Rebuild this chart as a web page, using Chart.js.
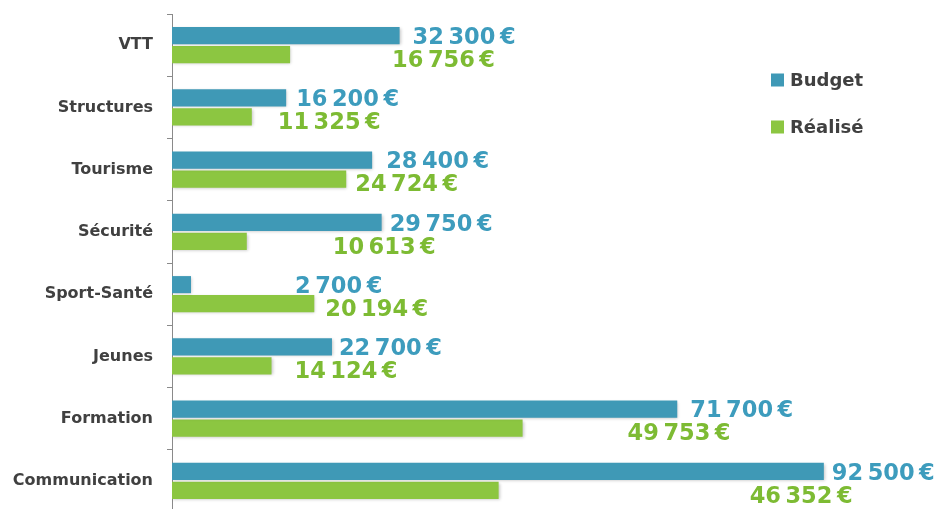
<!DOCTYPE html>
<html>
<head>
<meta charset="utf-8">
<script src="https://cdn.jsdelivr.net/npm/chart.js@4"></script>
<style>
  html, body { margin: 0; padding: 0; background: #ffffff; overflow: hidden; }
  #wrap { width: 938px; height: 520px; }
</style>
</head>
<body>
<div id="wrap"><canvas id="c" width="938" height="520"></canvas></div>
<script>
// ---- data ----
const categories = ['VTT', 'Structures', 'Tourisme', 'Sécurité', 'Sport-Santé', 'Jeunes', 'Formation', 'Communication'];
const budget  = [32300, 16200, 28400, 29750, 2700, 22700, 71700, 92500];
const realise = [16756, 11325, 24724, 10613, 20194, 14124, 49753, 46352];
const seriesNames = ['Budget', 'Réalisé'];

// ---- styling ----
const BLUE = '#3f99b6';
const GREEN = '#8cc641';
const BLUE_TXT = '#3d9cbd';
const GREEN_TXT = '#7dbb33';
const TEXT = '#404040';
// label nudges (pixels, relative to bar end) as placed in the original
const labelDx = [
  [13, 10, 14, 8, 104, 7, 13, 8],
  [102, 26, 9, 86, 11, 23, 105, 251]
];
const labelDy = [0, 4];
const LABEL_FONT_PX = 22.5;

function fmt(v) {
  return String(v).replace(/\B(?=(\d{3})+(?!\d))/g, '\u2009') + '\u2009€';
}

const shadowPlugin = {
  id: 'barShadow',
  beforeDatasetsDraw(chart) {
    const ctx = chart.ctx;
    ctx.save();
    ctx.shadowColor = 'rgba(0,0,0,0.22)';
    ctx.shadowBlur = 3;
    ctx.shadowOffsetX = 1;
    ctx.shadowOffsetY = 1;
  },
  afterDatasetsDraw(chart) {
    chart.ctx.restore();
  }
};

const labelPlugin = {
  id: 'valueLabels',
  afterDraw(chart) {
    const ctx = chart.ctx;
    ctx.save();
    ctx.font = 'bold ' + LABEL_FONT_PX + 'px "DejaVu Sans"';
    ctx.textAlign = 'left';
    ctx.textBaseline = 'alphabetic';
    chart.data.datasets.forEach((ds, di) => {
      const meta = chart.getDatasetMeta(di);
      ctx.fillStyle = di === 0 ? BLUE_TXT : GREEN_TXT;
      meta.data.forEach((el, i) => {
        const x = el.x + labelDx[di][i];
        const y = el.y + labelDy[di] + LABEL_FONT_PX * 0.3645;
        ctx.fillText(fmt(ds.data[i]), x, y);
      });
    });
    // legend
    ctx.font = 'bold 18px "DejaVu Sans"';
    ctx.textBaseline = 'middle';
    const legendY = [80, 127];
    chart.data.datasets.forEach((ds, di) => {
      ctx.fillStyle = ds.backgroundColor;
      ctx.fillRect(771, legendY[di] - 6.5, 13, 13);
      ctx.fillStyle = TEXT;
      ctx.fillText(ds.label, 790, legendY[di] + 1);
    });
    ctx.restore();
  }
};

new Chart(document.getElementById('c'), {
  type: 'bar',
  data: {
    labels: categories,
    datasets: [
      { label: seriesNames[0], data: budget, backgroundColor: BLUE, categoryPercentage: 0.61, barPercentage: 0.9 },
      { label: seriesNames[1], data: realise, backgroundColor: GREEN, categoryPercentage: 0.61, barPercentage: 0.9 }
    ]
  },
  options: {
    indexAxis: 'y',
    responsive: false,
    animation: false,
    devicePixelRatio: 1,
    layout: { padding: { top: 14, bottom: 8, left: 0, right: 0 } },
    plugins: { legend: { display: false }, tooltip: { enabled: false } },
    scales: {
      x: { display: false, min: 0, max: 108700 },
      y: {
        afterFit(scale) { scale.width = 172; scale.paddingTop = 0; scale.paddingBottom = 0; },
        border: { display: true, color: '#8a8a8a', width: 1 },
        grid: { display: true, drawOnChartArea: false, drawTicks: true, tickLength: 5, color: '#8a8a8a' },
        ticks: { color: TEXT, padding: 14, font: { family: '"DejaVu Sans"', weight: 'bold', size: 16 } }
      }
    }
  },
  plugins: [shadowPlugin, labelPlugin]
});
</script>
</body>
</html>
